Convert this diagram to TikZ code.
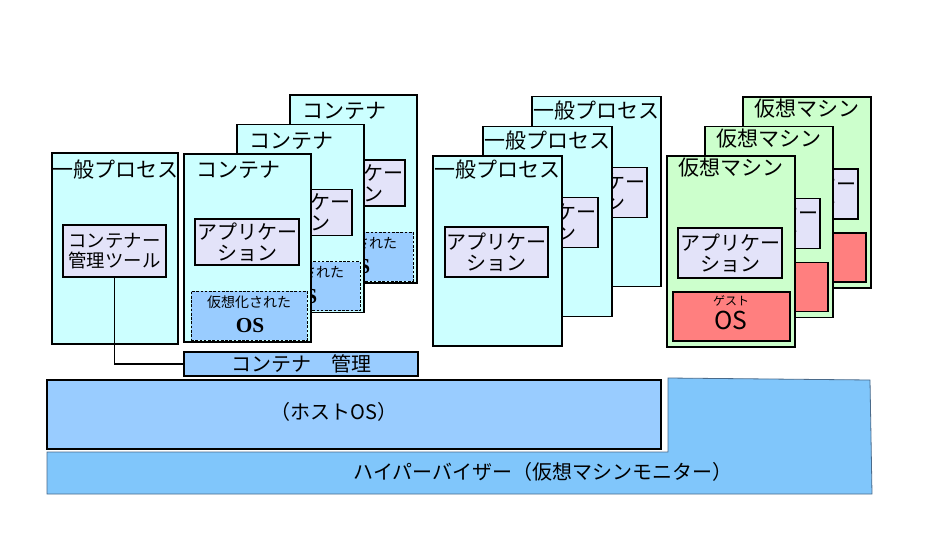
\documentclass[tikz,border=0pt]{standalone}
\usepackage{fontspec}
\setmainfont{Noto Sans CJK JP}
\newfontfamily\serifos{Liberation Serif}
\usetikzlibrary{fit}
\definecolor{cyanbox}{HTML}{CCFFFF}
\definecolor{appbox}{HTML}{E3E3F9}
\definecolor{vmbox}{HTML}{CCFFCC}
\definecolor{guest}{HTML}{FF7F7F}
\definecolor{osblue}{HTML}{99CCFF}
\definecolor{hyper}{HTML}{80C6FB}
\definecolor{hyperline}{HTML}{4A6A8A}
\tikzset{
  frame/.style={draw=black, line width=0.9pt, inner sep=0pt},
  procbox/.style={frame, fill=cyanbox},
  vmframe/.style={frame, fill=vmbox},
  appframe/.style={frame, fill=appbox},
  apptext/.style={inner sep=0pt, align=center, font=\fontsize{15}{15.5}\selectfont},
  vosframe/.style={draw=black, line width=0.7pt, dash pattern=on 2pt off 1.2pt, fill=osblue, inner sep=0pt},
  guestframe/.style={frame, fill=guest},
  titletext/.style={inner sep=0pt, font=\fontsize{15.75}{18}\selectfont},
  smalltext/.style={inner sep=0pt, font=\fontsize{10.5}{12}\selectfont},
  ostext/.style={inner sep=0pt, font=\serifos\fontsize{16}{18}\selectfont\bfseries},
  bigtext/.style={inner sep=0pt, font=\fontsize{15}{18}\selectfont},
}
\begin{document}
\begin{tikzpicture}[x=0.75pt, y=-0.75pt]
\useasboundingbox (0,0) rectangle (940,557);

% hypervisor and host OS
\draw[draw=hyperline, line width=0.6pt, fill=hyper]
  (47,452) -- (668,452) -- (668,378) -- (870,380) -- (872,494) -- (47,494) -- cycle;
\node[bigtext] (hyperlabel) at (543,472) {ハイパーバイザー（仮想マシンモニター）};
\fill[white] (44.5,377.5) rectangle (664.5,451);
\node[frame, fill=osblue, fit={(47,380) (661,449)}] (host) {};
\node[bigtext] (hostlabel) at (334,412) {（ホストOS）};

% left general process with management tool
\node[procbox, fit={(52,153) (178,344)}] (proc0) {};
\node[titletext] (proc0t) at (115,170) {一般プロセス};
\node[frame, fill=appbox, fit={(63,225) (166,277)}] (tool) {};
\node[inner sep=0pt, align=center, font=\fontsize{13.8}{15}\selectfont] (tooltext) at (tool.center) {コンテナー\\管理ツール};
\node[frame, fill=osblue, fit={(184,352) (418,376)}] (mgmt) {};
\node[bigtext] (mgmttext) at (mgmt.center) {コンテナ　管理};
\draw[line width=0.9pt] (tool.south) |- (mgmt.west);

% containers
\foreach \i/\dx/\dy in {3/106/-59, 2/53/-29.5, 1/0/0} {
  \node[procbox, fit={({184+\dx},{154+\dy}) ({311+\dx},{342+\dy})}] (c\i) {};
  \node[titletext, anchor=west] (c\i t) at ({196+\dx},{170+\dy}) {コンテナ};
  \node[appframe, fit={({195+\dx},{219+\dy}) ({299+\dx},{265+\dy})}] (c\i app) {};
  \node[apptext] (c\i appt) at (c\i app.center) {アプリケー\\ション};
  \node[vosframe, fit={({191+\dx},{291+\dy}) ({307+\dx},{340+\dy})}] (c\i os) {};
  \node[smalltext] (c\i ost) at ({249+\dx},{302+\dy}) {仮想化された};
  \node[ostext] (c\i oso) at ({250+\dx},{326+\dy}) {OS};
}

% general processes
\foreach \i/\dx/\dy in {3/99/-59.5, 2/50/-29.7, 1/0/0} {
  \node[procbox, fit={({433+\dx},{156+\dy}) ({562+\dx},{346+\dy})}] (p\i) {};
  \node[titletext] (p\i t) at ({497+\dx},{170+\dy}) {一般プロセス};
  \node[appframe, fit={({445+\dx},{227+\dy}) ({548+\dx},{277+\dy})}] (p\i app) {};
  \node[apptext] (p\i appt) at (p\i app.center) {アプリケー\\ション};
}

% virtual machines
\foreach \i/\dx/\dy in {3/76/-59, 2/38/-29.5, 1/0/0} {
  \node[vmframe, fit={({667+\dx},{156+\dy}) ({795+\dx},{347+\dy})}] (v\i) {};
  \node[titletext] (v\i t) at ({731+\dx},{168+\dy}) {仮想マシン};
  \node[appframe, fit={({678+\dx},{228+\dy}) ({782+\dx},{278+\dy})}] (v\i app) {};
  \node[apptext] (v\i appt) at (v\i app.center) {アプリケー\\ション};
  \node[guestframe, fit={({673+\dx},{292+\dy}) ({790+\dx},{341+\dy})}] (v\i g) {};
  \node[inner sep=0pt, font=\fontsize{9}{10}\selectfont] (v\i gt) at ({731+\dx},{301+\dy}) {ゲスト};
  \node[inner sep=0pt, font=\fontsize{18.5}{20}\selectfont] (v\i go) at ({731+\dx},{320+\dy}) {OS};
}
\end{tikzpicture}
\end{document}
